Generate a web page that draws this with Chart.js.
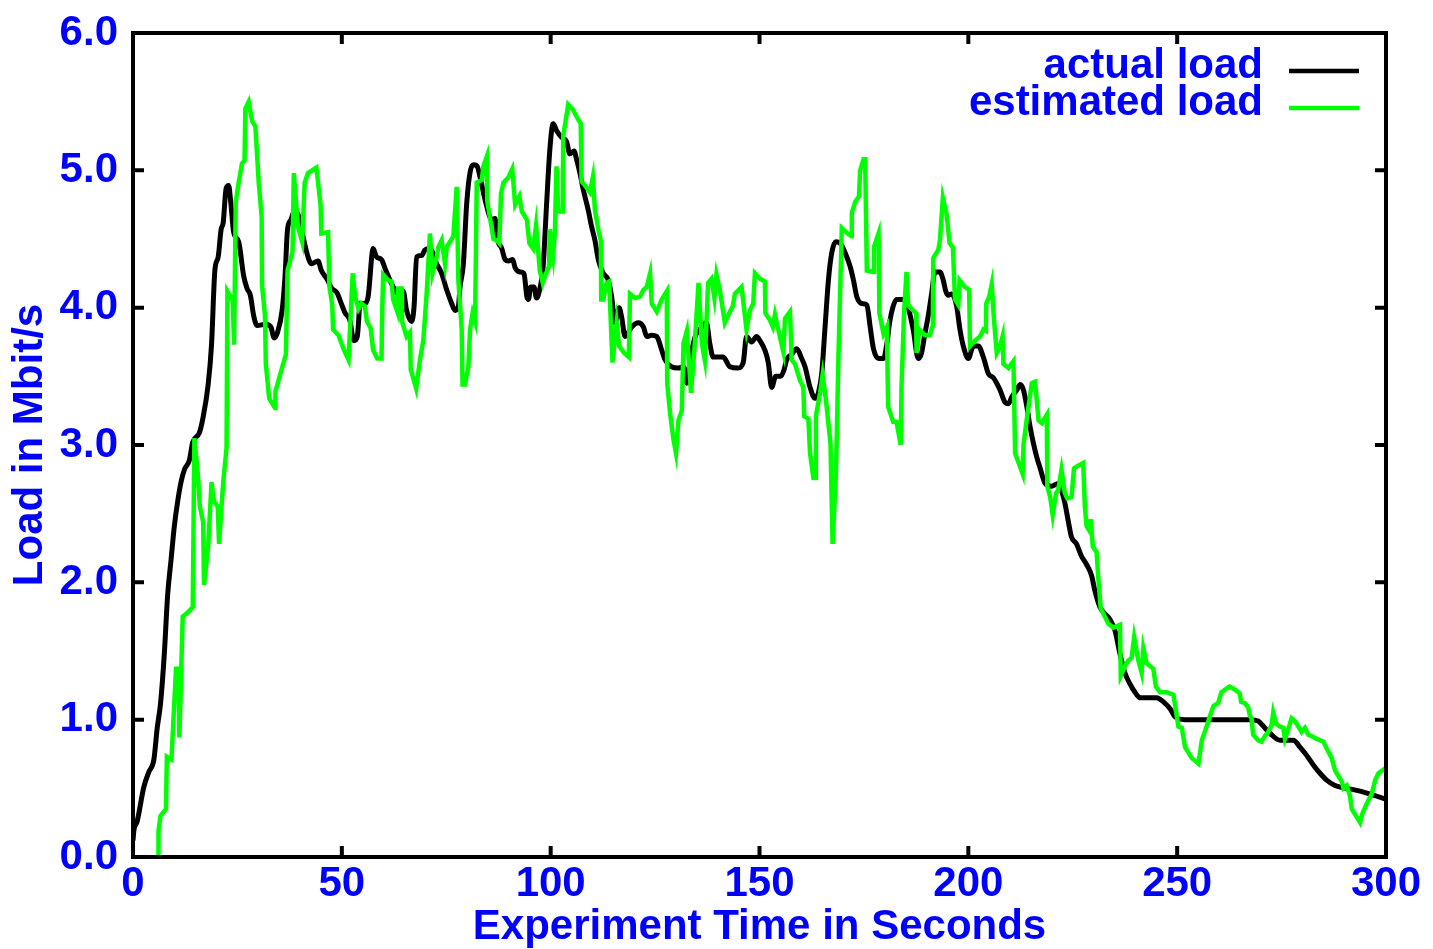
<!DOCTYPE html>
<html>
<head>
<meta charset="utf-8">
<script src="https://cdn.jsdelivr.net/npm/chart.js@4.4.1/dist/chart.umd.min.js"></script>
<style>
  html, body { margin:0; padding:0; background:#fff; }
  #wrap { width:1433px; height:949px; position:relative; }
</style>
</head>
<body>
<div id="wrap"><canvas id="loadChart"></canvas></div>
<script>
// time (s) / load (Mbit/s)
const actualT = [0,0.2,1.0,2.6,3.8,5.0,5.8,6.6,7.5,8.3,9.1,9.9,10.7,11.5,12.3,13.5,14.3,15.9,16.7,18.0,18.8,19.6,20.4,21.1,21.6,22.3,22.9,23.4,24.1,25.3,26.5,27.3,28.1,28.9,29.7,31.8,33.0,33.8,34.6,35.7,36.4,37.0,37.8,38.6,39.5,40.7,41.9,42.7,44.3,45.1,46.4,47.6,48.8,50.0,50.8,51.9,52.9,53.7,54.4,55.5,56.3,57.5,58.3,59.5,60.3,61.1,62.3,63.5,64.7,65.5,66.7,67.3,67.9,69.1,69.9,71.1,72.7,73.9,75.1,76.3,77.1,77.9,78.3,79.1,79.9,80.8,81.6,82.4,83.1,84.5,85.9,86.7,87.1,88.3,89.1,89.9,90.9,91.5,92.7,93.6,94.3,94.7,95.2,96.0,96.6,97.5,98.2,99.0,99.8,100.6,101.4,102.6,103.8,104.6,105.6,106.2,107.0,107.8,109.0,109.8,110.6,111.4,112.6,113.8,114.6,115.4,116.4,117.0,117.8,119.4,121.0,122.2,123.0,124.2,125.4,126.6,127.4,128.9,130.6,131.8,132.6,133.4,134.6,135.7,137.3,138.1,138.9,141.3,142.9,144.9,146.1,146.9,148.1,149.3,150.1,151.3,152.1,152.9,153.9,155.1,155.9,156.5,157.7,158.9,160.1,160.9,162.1,163.3,164.1,164.9,165.7,166.5,167.3,168.3,169.3,170.5,171.7,172.5,173.3,174.5,175.7,176.5,177.3,178.5,179.7,180.5,181.2,182.0,182.8,184.4,185.6,186.8,188.0,188.8,189.6,190.4,191.2,192.0,193.2,194.0,194.6,195.2,196.0,197.2,198.0,198.8,200.0,201.2,202.4,203.6,204.8,206.0,206.8,207.6,208.8,209.6,210.4,211.6,212.4,213.2,214.0,214.8,215.6,216.4,217.2,218.4,219.9,221.5,222.3,223.1,223.9,224.7,225.9,227.1,228.3,229.5,230.3,231.5,232.7,233.9,235.1,236.3,237.5,238.7,239.9,241.1,242.7,245.1,246.7,248.3,249.5,251.9,258.7,267.4,269.4,271.0,272.6,274.6,277.8,279.4,281.0,282.6,284.2,285.8,287.8,290.6,293.8,297.0,300.0];
const actualLoad = [0.12,0.19,0.26,0.51,0.62,0.71,0.94,1.12,1.48,1.91,2.16,2.41,2.59,2.73,2.82,2.89,3.02,3.09,3.19,3.44,3.73,4.27,4.37,4.57,4.62,4.87,4.89,4.77,4.55,4.48,4.23,4.14,4.09,3.94,3.87,3.88,3.86,3.78,3.82,3.98,4.23,4.57,4.64,4.70,4.68,4.52,4.37,4.32,4.34,4.27,4.21,4.14,4.11,4.02,3.96,3.91,3.76,3.79,4.03,4.03,4.08,4.43,4.37,4.35,4.29,4.23,4.15,4.10,4.12,3.98,3.90,4.01,4.37,4.38,4.42,4.43,4.32,4.25,4.13,4.03,3.98,4.01,4.15,4.32,4.76,5.00,5.04,5.03,4.95,4.76,4.64,4.65,4.52,4.43,4.35,4.34,4.35,4.29,4.26,4.25,4.08,4.06,4.15,4.15,4.07,4.15,4.30,4.74,5.15,5.34,5.29,5.24,5.21,5.12,5.14,5.08,4.98,4.86,4.71,4.59,4.49,4.35,4.25,4.20,4.08,3.89,4.00,3.93,3.79,3.86,3.89,3.86,3.79,3.80,3.79,3.69,3.62,3.57,3.56,3.57,3.45,3.62,3.79,3.84,3.89,3.74,3.64,3.64,3.57,3.56,3.60,3.79,3.75,3.79,3.76,3.69,3.60,3.42,3.50,3.50,3.55,3.62,3.66,3.70,3.63,3.57,3.42,3.34,3.38,3.52,3.86,4.20,4.40,4.48,4.47,4.40,4.30,4.20,4.08,4.03,4.02,3.86,3.70,3.63,3.63,3.74,3.90,4.01,4.06,4.06,4.00,3.84,3.63,3.67,3.81,3.94,4.10,4.26,4.26,4.20,4.12,4.09,4.10,4.01,3.84,3.72,3.63,3.72,3.72,3.64,3.52,3.49,3.45,3.40,3.31,3.30,3.35,3.40,3.44,3.40,3.28,3.13,3.01,2.91,2.83,2.72,2.70,2.72,2.67,2.58,2.45,2.33,2.28,2.19,2.13,2.05,1.94,1.82,1.77,1.73,1.65,1.48,1.34,1.26,1.20,1.16,1.16,1.16,1.13,1.08,1.02,1.00,1.00,1.00,0.99,0.94,0.89,0.85,0.85,0.80,0.74,0.67,0.61,0.56,0.52,0.50,0.48,0.45,0.42];

const estT = [6.0,6.1,6.6,7.9,8.1,9.2,10.3,10.9,11.1,11.9,13.1,14.3,14.7,15.6,16.0,16.8,17.0,18.0,18.8,19.4,20.3,20.6,21.6,22.4,22.6,23.9,24.2,24.6,25.3,26.1,26.7,26.9,27.7,28.5,29.3,30.1,30.8,30.9,31.6,31.8,32.6,34.0,34.1,35.4,36.6,37.0,37.8,38.2,38.5,39.5,40.5,41.1,41.9,43.9,44.9,45.1,46.7,47.0,47.7,47.9,49.2,50.4,51.6,52.6,53.2,54.0,54.7,55.5,56.0,56.9,57.5,58.5,59.5,59.7,59.9,61.1,61.9,62.3,63.3,63.5,64.3,64.4,65.5,66.3,66.5,67.8,68.7,69.5,70.3,71.1,71.7,72.7,73.1,73.9,74.7,75.1,76.7,77.5,77.9,78.7,78.9,79.5,80.3,80.7,81.3,81.9,82.3,83.5,83.9,84.7,84.8,86.3,87.1,87.7,88.1,88.7,89.9,90.8,91.5,92.5,93.1,94.3,94.9,95.8,96.5,97.4,98.1,98.9,99.6,99.8,100.6,101.0,101.4,101.8,102.9,103.0,104.2,105.4,106.2,107.2,107.4,108.2,109.4,110.1,110.6,111.4,112.0,112.1,112.6,113.4,114.0,114.8,115.8,116.4,117.6,118.7,119.0,120.2,121.4,122.2,123.0,123.8,124.2,125.4,126.6,127.8,127.9,128.6,129.4,130.0,130.6,131.4,131.8,132.6,133.6,134.4,135.4,136.2,136.9,137.7,138.5,139.2,139.7,140.5,141.7,142.9,143.6,144.1,145.7,146.9,147.7,148.5,148.9,150.1,151.3,151.4,152.5,153.2,153.7,154.5,155.7,156.1,157.3,157.7,158.5,159.7,160.5,160.7,161.7,162.1,162.9,163.3,163.5,164.5,165.1,165.9,167.0,167.5,168.3,168.9,169.7,170.7,172.0,172.1,172.9,173.8,174.1,174.9,175.3,175.7,177.3,177.4,178.5,178.7,179.7,180.5,180.8,182.0,182.8,183.8,184.0,184.6,185.2,185.6,186.4,187.5,187.6,188.3,189.6,190.8,191.5,191.6,192.8,193.2,193.9,194.8,195.5,196.3,196.8,197.6,197.9,199.2,200.2,200.4,201.6,202.8,203.6,204.2,204.3,205.0,205.6,206.1,206.8,207.6,208.2,208.4,209.6,210.8,211.2,212.4,213.0,213.2,214.0,215.2,216.0,216.8,217.6,218.8,218.9,219.6,220.2,221.0,221.5,222.3,223.1,223.7,224.7,225.3,226.3,227.5,227.9,228.3,229.1,229.3,229.8,230.7,231.1,231.7,232.7,233.5,234.7,236.3,236.5,237.5,238.3,239.1,239.7,240.7,241.5,241.9,242.7,244.3,244.9,245.9,247.5,249.1,250.3,251.1,251.9,253.5,255.1,255.9,256.7,257.9,258.7,259.8,260.6,262.5,263.8,265.0,265.3,266.2,267.0,267.4,267.8,268.2,269.4,270.2,271.0,271.8,272.6,273.0,273.7,274.6,275.4,275.8,276.4,277.4,278.2,279.0,279.8,280.6,281.4,282.2,283.4,285.0,285.8,287.0,287.8,288.6,289.4,289.8,290.6,291.4,291.8,293.0,293.8,294.4,295.4,296.6,297.4,298.2,300.0];
const estLoad = [0.0,0.19,0.30,0.35,0.73,0.71,1.37,1.37,0.87,1.75,1.78,1.82,3.05,2.76,2.55,2.44,1.98,2.26,2.73,2.59,2.55,2.28,2.73,2.98,4.12,4.05,3.73,4.77,4.91,5.05,5.07,5.45,5.50,5.36,5.32,4.91,4.66,4.16,3.94,3.59,3.34,3.27,3.39,3.53,3.66,4.27,4.36,4.41,4.98,4.59,4.48,4.91,4.98,5.02,4.75,4.54,4.55,4.16,4.02,3.84,3.80,3.70,3.62,4.25,4.08,3.99,4.03,4.01,3.90,3.85,3.69,3.63,3.63,4.02,4.24,4.20,4.19,4.06,3.97,4.14,4.14,3.90,3.79,3.82,3.55,3.41,3.62,3.76,4.10,4.54,4.25,4.37,4.44,4.49,4.32,4.44,4.52,4.88,4.20,3.84,3.44,3.44,3.57,3.84,3.96,3.90,4.91,4.93,5.03,5.10,4.78,4.50,4.49,4.47,4.83,4.91,4.95,5.01,4.75,4.81,4.70,4.64,4.47,4.43,4.60,4.27,4.18,4.25,4.30,4.57,4.38,4.54,5.03,4.70,4.70,5.25,5.48,5.44,5.39,5.34,4.92,4.89,4.84,4.95,4.71,4.57,4.49,4.06,4.06,4.18,4.19,3.60,3.89,3.72,3.67,3.64,4.10,4.07,4.08,4.13,4.15,4.25,4.03,3.97,4.06,4.12,3.45,3.23,3.04,2.94,3.18,3.25,3.74,3.83,3.38,3.69,4.18,3.74,3.62,4.18,4.21,4.07,4.24,4.13,3.89,3.97,4.01,4.10,4.15,3.84,3.98,4.03,4.25,4.21,4.19,3.96,3.91,3.86,3.95,3.84,3.68,3.92,3.97,3.62,3.59,3.47,3.42,3.21,3.19,2.94,2.76,2.76,3.21,3.38,3.51,3.33,3.01,2.28,2.79,3.64,4.58,4.55,4.52,4.69,4.77,4.81,5.00,5.08,5.08,4.27,4.26,4.44,4.54,3.96,3.81,3.86,3.28,3.17,3.17,3.00,3.42,3.96,4.26,4.02,3.99,3.96,3.67,3.84,3.80,3.80,3.87,4.36,4.42,4.49,4.80,4.68,4.47,4.44,4.06,4.02,4.20,4.15,4.13,3.72,3.76,3.79,3.84,3.83,4.03,4.08,4.17,3.93,3.67,3.72,3.79,3.59,3.56,3.61,2.94,2.84,2.79,3.00,3.19,3.45,3.46,3.18,3.16,3.22,2.70,2.62,2.49,2.65,2.67,2.82,2.65,2.61,2.62,2.83,2.85,2.87,2.55,2.41,2.37,2.46,2.26,2.22,2.04,1.81,1.75,1.70,1.67,1.69,1.32,1.39,1.43,1.45,1.60,1.43,1.34,1.52,1.41,1.37,1.24,1.20,1.20,1.18,0.95,0.94,0.80,0.72,0.68,0.85,0.92,1.03,1.10,1.12,1.20,1.24,1.22,1.19,1.13,1.12,1.09,1.03,1.01,0.89,0.85,0.84,0.88,0.91,0.96,1.05,0.97,0.95,0.94,0.86,0.91,1.01,0.99,0.95,0.91,0.94,0.89,0.88,0.86,0.84,0.79,0.72,0.63,0.59,0.55,0.50,0.52,0.44,0.35,0.29,0.25,0.32,0.39,0.46,0.56,0.61,0.65];

const xTicks = [0, 50, 100, 150, 200, 250, 300];
const yTicks = [0, 1, 2, 3, 4, 5, 6];
const seriesNames = ['actual load', 'estimated load'];
const seriesColors = ['#000000', '#00ff00'];

const BLUE = '#0000ff';
const FONT = "'Liberation Sans', Arial, Helvetica, sans-serif";

const toXY = (ts, vs) => ts.map((t, i) => ({ x: t, y: vs[i] }));

// box frame with inward ticks on all four sides
const framePlugin = {
  id: 'frame',
  afterDraw(chart) {
    const { ctx, chartArea: a, scales } = chart;
    ctx.save();
    ctx.strokeStyle = '#000';
    ctx.lineWidth = 4;
    ctx.strokeRect(a.left, a.top, a.right - a.left, a.bottom - a.top);
    const tl = 11;
    ctx.beginPath();
    yTicks.forEach(v => {
      const y = scales.y.getPixelForValue(v);
      ctx.moveTo(a.left, y); ctx.lineTo(a.left + tl, y);
      ctx.moveTo(a.right, y); ctx.lineTo(a.right - tl, y);
    });
    xTicks.forEach(v => {
      const x = scales.x.getPixelForValue(v);
      ctx.moveTo(x, a.bottom); ctx.lineTo(x, a.bottom - tl);
      ctx.moveTo(x, a.top); ctx.lineTo(x, a.top + tl);
    });
    ctx.stroke();
    ctx.restore();
  }
};

// gnuplot-style key: right-aligned text, line sample on the right
const keyPlugin = {
  id: 'key',
  afterDraw(chart) {
    const { ctx } = chart;
    ctx.save();
    ctx.font = `bold 42px ${FONT}`;
    ctx.fillStyle = BLUE;
    ctx.textAlign = 'right';
    ctx.textBaseline = 'alphabetic';
    const rows = [{ base: 78, line: 71 }, { base: 115, line: 108 }];
    seriesNames.forEach((name, i) => {
      ctx.fillText(name, 1263, rows[i].base);
      ctx.strokeStyle = seriesColors[i];
      ctx.lineWidth = 4.5;
      ctx.beginPath();
      ctx.moveTo(1289, rows[i].line);
      ctx.lineTo(1359, rows[i].line);
      ctx.stroke();
    });
    ctx.restore();
  }
};

new Chart(document.getElementById('loadChart'), {
  type: 'line',
  data: {
    datasets: [
      { label: seriesNames[0], data: toXY(actualT, actualLoad), borderColor: seriesColors[0], borderWidth: 5,
        pointRadius: 0, cubicInterpolationMode: 'monotone', order: 2 },
      { label: seriesNames[1], data: toXY(estT, estLoad), borderColor: seriesColors[1], borderWidth: 4.5,
        pointRadius: 0, tension: 0, order: 1 }
    ]
  },
  options: {
    animation: false,
    responsive: true,
    maintainAspectRatio: false,
    devicePixelRatio: 1,
    layout: { padding: { top: 33, right: 47, left: 0, bottom: 0 } },
    plugins: { legend: { display: false }, tooltip: { enabled: false } },
    scales: {
      x: {
        type: 'linear', min: 0, max: 300,
        afterFit: s => { s.height = 92; s.paddingLeft = 0; s.paddingRight = 0; },
        afterBuildTicks: s => { s.ticks = xTicks.map(v => ({ value: v })); },
        grid: { display: false, drawTicks: false },
        border: { display: false },
        ticks: { color: BLUE, font: { family: FONT, size: 42, weight: 'bold' }, padding: 2, maxRotation: 0 },
        title: { display: true, text: 'Experiment Time in Seconds', color: BLUE,
          font: { family: FONT, size: 42, weight: 'bold', lineHeight: 1 }, padding: { top: 0, bottom: 1 } }
      },
      y: {
        type: 'linear', min: 0, max: 6,
        afterFit: s => { s.width = 133; s.paddingTop = 0; s.paddingBottom = 0; },
        afterBuildTicks: s => { s.ticks = yTicks.map(v => ({ value: v })); },
        grid: { display: false, drawTicks: false },
        border: { display: false },
        ticks: { color: BLUE, font: { family: FONT, size: 42, weight: 'bold' }, padding: 15,
          callback: v => v.toFixed(1) },
        title: { display: true, text: 'Load in Mbit/s', color: BLUE,
          font: { family: FONT, size: 42, weight: 'bold', lineHeight: 1 }, padding: { top: 9, bottom: 0 } }
      }
    }
  },
  plugins: [framePlugin, keyPlugin]
});
</script>
</body>
</html>
